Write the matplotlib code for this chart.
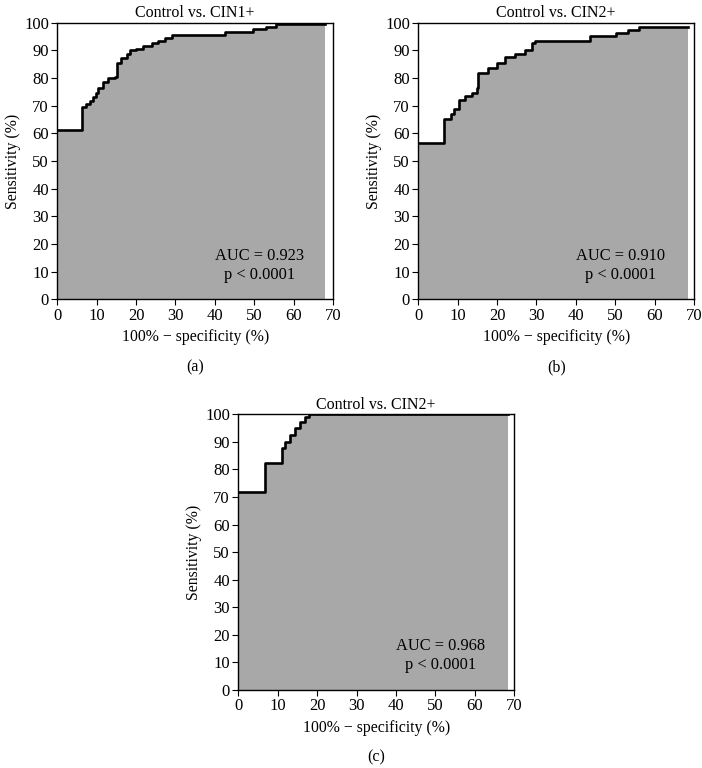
import matplotlib.pyplot as plt

plt.rcParams['font.family'] = ['Liberation Serif', 'DejaVu Serif']
plt.rcParams['font.size'] = 11.5

# ROC corner points (100% - specificity, sensitivity)
fpr_a = [0, 6.4, 7.4, 8.3, 9.0, 9.8, 10.4, 11.7, 12.9, 14.6, 15.1, 16.3, 17.6, 18.4,
         20.1, 21.8, 24.0, 25.6, 27.3, 29.0, 42.5, 49.7, 53.0, 55.6, 68.0]
tpr_a = [61.0, 69.3, 70.5, 71.5, 73.0, 74.5, 76.4, 78.6, 79.8, 80.4, 85.2, 87.0, 88.8, 90.0,
         90.6, 91.6, 92.5, 93.3, 94.3, 95.5, 96.6, 97.6, 98.2, 99.3, 99.3]

fpr_b = [0, 6.6, 8.2, 9.0, 10.2, 11.8, 13.5, 14.8, 15.2, 17.8, 19.9, 22.0, 24.5, 27.1,
         28.8, 29.6, 43.5, 50.3, 53.3, 56.0, 68.5]
tpr_b = [56.5, 65.0, 67.0, 68.9, 72.0, 73.6, 74.6, 76.5, 81.6, 83.4, 85.2, 87.5, 88.8, 90.0,
         92.5, 93.3, 95.1, 96.2, 97.2, 98.4, 98.4]

fpr_c = [0, 6.8, 11.0, 11.9, 13.1, 14.4, 15.7, 16.9, 18.0, 68.5]
tpr_c = [71.8, 82.2, 87.7, 90.1, 92.5, 94.9, 97.3, 99.1, 100.0, 100.0]

titles = ['Control vs. CIN1+', 'Control vs. CIN2+', 'Control vs. CIN2+']
aucs = ['0.923', '0.910', '0.968']
letters = ['(a)', '(b)', '(c)']

fig = plt.figure(figsize=(7.02, 7.68), dpi=100)
boxes = [[0.0816, 0.6103, 0.3928, 0.3604],
         [0.5959, 0.6103, 0.3928, 0.3604],
         [0.3395, 0.1016, 0.3928, 0.3590]]
curves = [(fpr_a, tpr_a), (fpr_b, tpr_b), (fpr_c, tpr_c)]

for box, (fpr, tpr), title, auc, letter in zip(boxes, curves, titles, aucs, letters):
    ax = fig.add_axes(box)
    ax.fill_between(fpr, tpr, 0, step='post', color='#a8a8a8', linewidth=0)
    ax.plot(fpr, tpr, drawstyle='steps-post', color='black', linewidth=1.9)
    ax.set_xlim(0, 70)
    ax.set_ylim(0, 100)
    ax.set_xticks(range(0, 71, 10))
    ax.set_yticks(range(0, 101, 10))
    ax.tick_params(direction='out', length=4, width=0.8, pad=2, labelsize=12)
    for s in ax.spines.values():
        s.set_linewidth(1.0)
    ax.set_title(title, fontsize=11.5, pad=4)
    ax.set_xlabel('100% \u2212 specificity (%)', fontsize=11.3, labelpad=4)
    ax.set_ylabel('Sensitivity (%)', fontsize=11.3, labelpad=2)
    ax.text(51.3, 15.8, 'AUC = ' + auc, ha='center', va='center', fontsize=11.8)
    ax.text(51.3, 8.9, 'p < 0.0001', ha='center', va='center', fontsize=11.8)
    ax.text(0.5, -0.245, letter, transform=ax.transAxes, ha='center', va='center', fontsize=11.5)

fig.savefig('out.png', dpi=100)
